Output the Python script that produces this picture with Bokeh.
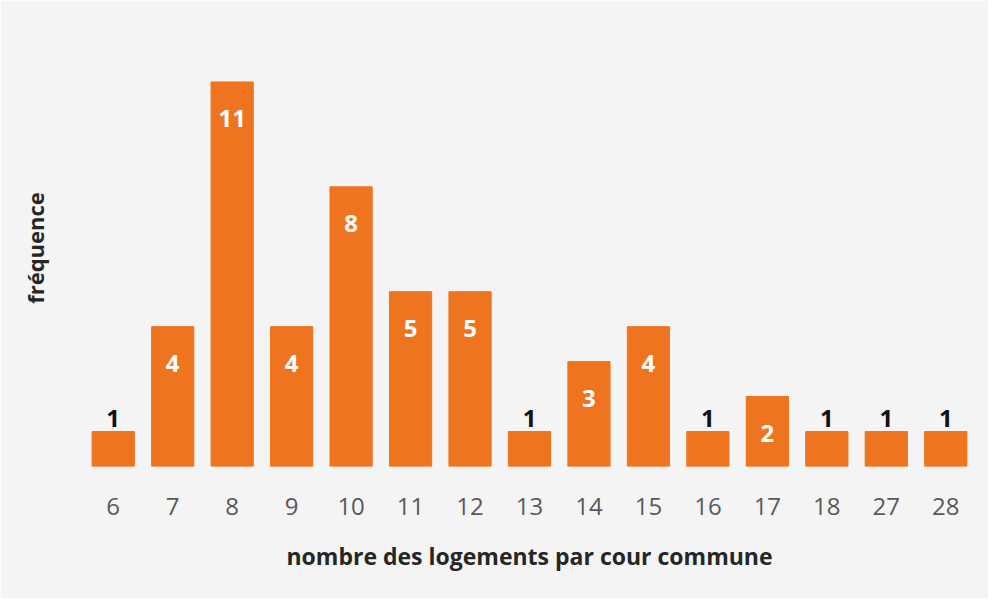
from bokeh.plotting import figure
from bokeh.models import ColumnDataSource, FactorRange, Range1d, LabelSet, LinearAxis, FixedTicker
from bokeh.core.properties import value
from bokeh.embed import file_html
from bokeh.resources import INLINE

categories = ["6", "7", "8", "9", "10", "11", "12", "13", "14", "15", "16", "17", "18", "27", "28"]
frequencies = [1, 4, 11, 4, 8, 5, 5, 1, 3, 4, 1, 2, 1, 1, 1]

inside = [f >= 2 for f in frequencies]
src_in = ColumnDataSource(dict(
    x=[c for c, k in zip(categories, inside) if k],
    y=[f for f, k in zip(frequencies, inside) if k],
    t=[str(f) for f, k in zip(frequencies, inside) if k],
))
src_out = ColumnDataSource(dict(
    x=[c for c, k in zip(categories, inside) if not k],
    y=[f for f, k in zip(frequencies, inside) if not k],
    t=[str(f) for f, k in zip(frequencies, inside) if not k],
))
src = ColumnDataSource(dict(x=categories, y=frequencies))

p = figure(width=988, height=598, x_range=FactorRange(*categories, range_padding=0),
           y_range=Range1d(0, 12.5), output_backend="svg", toolbar_location=None,
           min_border_left=83, min_border_right=13, min_border_top=29, min_border_bottom=132)

p.background_fill_color = "#f4f4f4"
p.border_fill_color = "#f4f4f4"
p.outline_line_color = None

p.vbar(x="x", top="y", width=0.71, source=src, color="#EE7420")

lab_in = LabelSet(x="x", y="y", text="t", source=src_in, text_color="white",
                  text_font=value("Open Sans"), text_font_style="bold", text_font_size="24px",
                  text_align="center", text_baseline="middle", y_offset=-37)
lab_out = LabelSet(x="x", y="y", text="t", source=src_out, text_color="#111111",
                   text_font=value("Open Sans"), text_font_style="bold", text_font_size="24px",
                   text_align="center", text_baseline="bottom", y_offset=5)
p.add_layout(lab_in)
p.add_layout(lab_out)

p.grid.visible = False
p.yaxis.visible = False

xa = p.xaxis[0]
xa.axis_line_color = None
xa.major_tick_line_color = None
xa.minor_tick_line_color = None
xa.major_label_text_font = "Open Sans"
xa.major_label_text_font_size = "24px"
xa.major_label_text_color = "#595959"
xa.major_label_standoff = 25
xa.axis_label = "nombre des logements par cour commune"
xa.axis_label_text_font = "Open Sans"
xa.axis_label_text_font_style = "bold"
xa.axis_label_text_font_size = "23px"
xa.axis_label_text_color = "#262626"
xa.axis_label_standoff = 22

ya = LinearAxis(axis_label="fréquence", ticker=FixedTicker(ticks=[]))
ya.axis_line_color = None
ya.major_tick_line_color = None
ya.minor_tick_line_color = None
ya.axis_label_text_font = "Open Sans"
ya.axis_label_text_font_style = "bold"
ya.axis_label_text_font_size = "22px"
ya.axis_label_text_color = "#262626"
ya.axis_label_standoff = 34
p.add_layout(ya, "left")

open("out.html", "w").write(file_html(p, INLINE))
